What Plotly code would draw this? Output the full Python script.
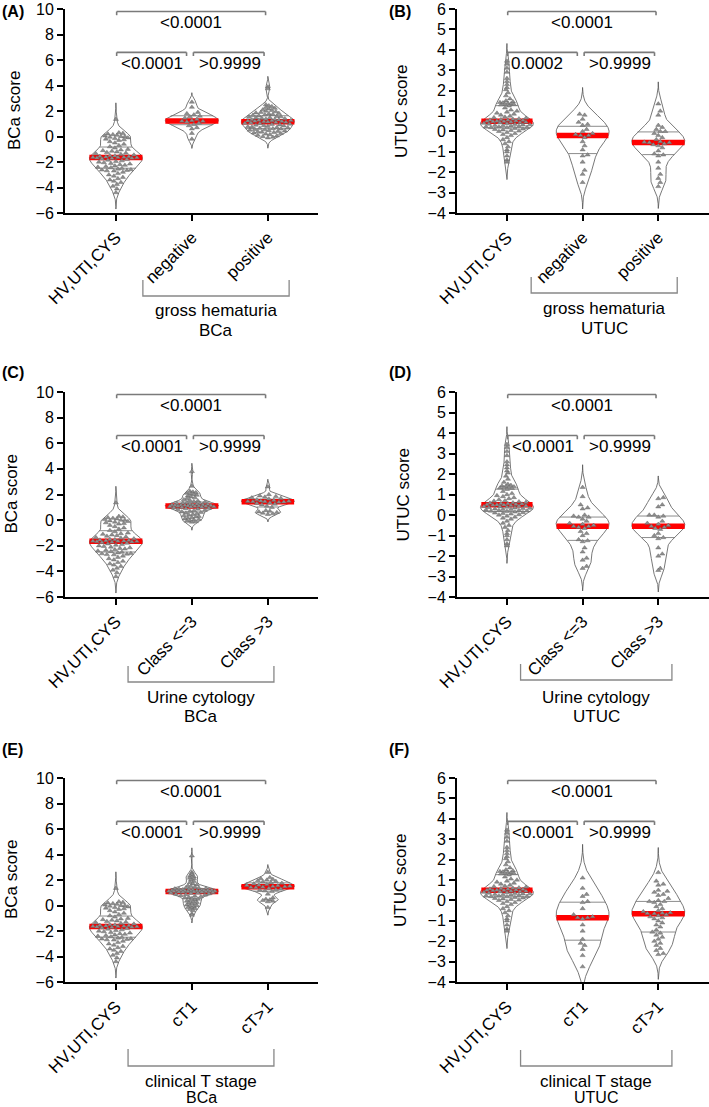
import numpy as np
import plotly.graph_objects as go

W, H = 709, 1107

# ---------------- data ----------------
hv_bca = [1.35,
          0.3, 0.25, 0.2, 0.15, 0.1, 0.05, 0.0, 0.0, -0.05, -0.1, -0.15, -0.2, -0.25, -0.3, -0.4,
          -0.5,
          -0.6, -0.7, -0.8, -0.9, -1.0,
          -1.05, -1.1, -1.15, -1.2, -1.25, -1.3, -1.35, -1.4, -1.45, -1.5, -1.52, -1.55, -1.58,
          -1.6, -1.62, -1.63, -1.64,
          -1.66, -1.68, -1.7, -1.72, -1.75, -1.8, -1.85, -1.9, -1.95, -2.0, -2.05, -2.1, -2.15,
          -2.2, -2.25, -2.3, -2.35, -2.4, -2.45, -2.5, -2.55, -2.6, -2.62, -2.65, -2.68, -2.7,
          -2.8, -2.9, -3.0, -3.1, -3.2, -3.3, -3.4, -3.5, -3.6, -3.75, -3.9, -4.1, -4.4]
hv_utuc = [3.45, 3.3, 3.1, 2.9, 2.6, 2.45, 2.3, 2.15, 2.05, 1.9,
           1.75, 1.6, 1.5, 1.45, 1.42, 1.4, 1.38, 1.35, 1.33, 1.32, 1.3,
           1.25, 1.15, 1.05, 1.0, 0.95, 0.9, 0.85, 0.8, 0.75, 0.7, 0.68, 0.65, 0.62, 0.6, 0.58,
           0.56, 0.55, 0.54, 0.52, 0.51, 0.5,
           0.49, 0.48, 0.46, 0.45, 0.43, 0.42, 0.4, 0.38, 0.36, 0.35, 0.33, 0.32, 0.3, 0.28,
           0.27, 0.25, 0.23, 0.22, 0.2, 0.19, 0.18,
           0.15, 0.12, 0.1, 0.08, 0.05, 0.02, 0.0, -0.05, -0.1, -0.15, -0.2, -0.3, -0.4, -0.5,
           -0.6, -0.75, -0.9, -1.0, -1.2, -1.4, -1.5]

bca_gh_neg = [2.7, 2.3, 1.9, 1.8, 1.7, 1.6, 1.55, 1.45, 1.35, 1.25, 1.2, 1.2, 1.15, 1.05,
              0.95, 0.85, 0.7, 0.6, 0.25, -0.2]
bca_gh_pos = [3.9, 3.75, 2.5, 2.42, 2.35, 2.28, 2.22, 2.16, 2.1, 2.05, 2.0, 1.95, 1.9, 1.86,
              1.82, 1.78, 1.74, 1.7, 1.66, 1.62, 1.58, 1.55, 1.52, 1.49, 1.46, 1.43, 1.4, 1.37,
              1.34, 1.32, 1.3, 1.28, 1.26, 1.24, 1.22, 1.2, 1.18, 1.16,
              1.14, 1.12, 1.1, 1.07, 1.04, 1.01, 0.98, 0.95, 0.92, 0.89, 0.86, 0.83, 0.8, 0.77,
              0.74, 0.71, 0.68, 0.65, 0.62, 0.59, 0.56, 0.53, 0.5, 0.47, 0.44, 0.41, 0.38, 0.35,
              0.32, 0.28, 0.24, 0.2, 0.15, 0.1, 0.05, 0.0, -0.05, -0.1]
bca_cyt_le3 = [3.8, 2.65, 2.25, 2.2, 2.15, 2.1, 2.05, 2.0, 1.95, 1.9, 1.82, 1.75, 1.68, 1.6, 1.55,
               1.5, 1.45, 1.4, 1.36, 1.32, 1.3, 1.28, 1.26, 1.24, 1.22, 1.2, 1.19, 1.18, 1.17,
               1.16, 1.15, 1.14, 1.12, 1.11,
               1.09, 1.08, 1.07, 1.06, 1.05, 1.03, 1.01, 0.99, 0.96, 0.93, 0.9, 0.86, 0.82, 0.78,
               0.74, 0.7, 0.65, 0.6, 0.55, 0.5, 0.45, 0.4, 0.35, 0.3, 0.25, 0.2, 0.15, 0.1, 0.05,
               0.0, -0.05, -0.08, -0.12, -0.15]
bca_cyt_gt3 = [2.6, 2.0, 1.9, 1.85, 1.8, 1.75, 1.7, 1.65, 1.6, 1.55, 1.5, 1.48, 1.46, 1.45, 1.44,
               1.42, 1.4, 1.35, 1.3, 1.25, 1.2, 1.1, 1.0, 0.75, 0.7, 0.65, 0.6, 0.55, 0.5, 0.45]
bca_ct1 = [3.9, 2.6, 2.5, 2.4, 2.3, 2.25, 2.2, 2.15, 2.1, 2.0, 1.9, 1.8, 1.7, 1.62, 1.55, 1.5,
           1.45, 1.4, 1.37, 1.34, 1.31, 1.29, 1.27, 1.25, 1.23, 1.21, 1.2, 1.19, 1.18, 1.17, 1.16,
           1.16, 1.15, 1.15, 1.14, 1.14, 1.13, 1.12, 1.11, 1.1,
           1.09, 1.08, 1.07, 1.06, 1.05, 1.04, 1.02, 1.0, 0.98, 0.95, 0.92, 0.89, 0.86, 0.82,
           0.78, 0.74, 0.7, 0.65, 0.6, 0.55, 0.5, 0.45, 0.4, 0.35, 0.3, 0.25, 0.2, 0.15, 0.1,
           0.05, 0.0, -0.05, -0.1, -0.15, -0.2, -0.25, -0.3, -0.4, -0.65, -0.75]
bca_ctgt1 = [2.6, 2.2, 2.1, 2.05, 2.0, 1.95, 1.9, 1.85, 1.8, 1.75, 1.7, 1.65, 1.6, 1.58, 1.55,
             1.52, 1.5, 1.48, 1.45, 1.42, 1.4, 1.35, 1.3, 1.25, 1.2, 1.15, 1.1, 0.9, 0.6, 0.5,
             0.45, 0.4, 0.35, 0.3, -0.15]
utuc_gh_neg = [0.85, 0.8, 0.6, 0.45, 0.35, 0.3, 0.1, 0.0, -0.1, -0.15, -0.2, -0.2, -0.3, -0.5,
               -0.7, -0.9, -1.15, -1.2, -1.5, -1.9, -2.1, -2.5]
utuc_gh_pos = [1.35, 1.0, 0.8, 0.3, 0.2, 0.1, 0.0, 0.0, -0.1, -0.2, -0.3, -0.4, -0.5, -0.52,
               -0.55, -0.55, -0.6, -0.65, -0.7, -0.8, -0.95, -1.1, -1.15, -1.2, -1.5, -1.8, -2.1,
               -2.3, -2.5, -2.7]
utuc_cyt_le3 = [1.35, 0.9, 0.5, 0.35, 0.3, 0.0, -0.05, -0.1, -0.1, -0.2, -0.3, -0.4, -0.45, -0.5,
                -0.55, -0.55, -0.6, -0.65, -0.8, -0.9, -1.0, -1.2, -1.25, -1.3, -1.6, -1.8, -2.1,
                -2.2, -2.5, -2.6]
utuc_cyt_gt3 = [0.85, 0.8, 0.5, 0.4, 0.0, 0.0, -0.05, -0.1, -0.3, -0.4, -0.45, -0.5, -0.55, -0.6,
                -0.65, -0.7, -0.9, -1.0, -1.1, -1.15, -1.6, -1.9, -2.0, -2.6, -2.7]
utuc_ct1 = [1.1, 0.6, 0.3, 0.2, -0.05, -0.1, -0.4, -0.7, -0.8, -0.85, -0.85, -0.9, -1.2, -1.5,
            -1.9, -2.1, -2.2, -2.4, -2.7, -3.25]
utuc_ctgt1 = [1.37, 0.95, 0.8, 0.75, 0.5, 0.45, 0.4, 0.3, 0.25, 0.1, 0.0, -0.05, -0.05, -0.1, -0.2,
              -0.3, -0.4, -0.5, -0.55, -0.6, -0.62, -0.64, -0.65, -0.7, -0.75, -0.8, -0.85, -0.9,
              -1.0, -1.1, -1.2, -1.3, -1.45, -1.55, -1.6, -1.7, -1.8, -1.9, -2.0, -2.1, -2.2,
              -2.35, -2.45, -2.6, -2.65]

cats_gh = ["HV,UTI,CYS", "negative", "positive"]
cats_cyt = ["HV,UTI,CYS", "Class &lt;=3", "Class &gt;3"]
cats_ct = ["HV,UTI,CYS", "cT1", "cT&gt;1"]

ticks_bca = [-6, -4, -2, 0, 2, 4, 6, 8, 10]
ticks_utuc = [-4, -3, -2, -1, 0, 1, 2, 3, 4, 5, 6]

p_top = ["&lt;0.0001"] * 6
p_left = ["&lt;0.0001", "0.0002", "&lt;0.0001", "&lt;0.0001", "&lt;0.0001", "&lt;0.0001"]
p_right = ["&gt;0.9999"] * 6

# ---------------- layout geometry ----------------
FONT = "Liberation Sans, Arial, sans-serif"
col_px = [(65, 318), (457, 709)]
row_px = [(9, 213), (392, 597), (778, 982)]
x_rng = [[-0.67, 2.66], [-0.66, 2.67]]

panels = [
    dict(letter="(A)", r=0, c=0, groups=[hv_bca, bca_gh_neg, bca_gh_pos], cats=cats_gh,
         ylab="BCa score", ticks=ticks_bca, title=["gross hematuria", "BCa"],
         br=(0.355, 2.28), bry=(280, 296), laby=(310, 330), ylx=15),
    dict(letter="(B)", r=0, c=1, groups=[hv_utuc, utuc_gh_neg, utuc_gh_pos], cats=cats_gh,
         ylab="UTUC score", ticks=ticks_utuc, title=["gross hematuria", "UTUC"],
         br=(0.32, 2.25), bry=(277, 293), laby=(308, 328), ylx=402),
    dict(letter="(C)", r=1, c=0, groups=[hv_bca, bca_cyt_le3, bca_cyt_gt3], cats=cats_cyt,
         ylab="BCa score", ticks=ticks_bca, title=["Urine cytology", "BCa"],
         br=(0.16, 2.08), bry=(666, 682), laby=(697, 716), ylx=11),
    dict(letter="(D)", r=1, c=1, groups=[hv_utuc, utuc_cyt_le3, utuc_cyt_gt3], cats=cats_cyt,
         ylab="UTUC score", ticks=ticks_utuc, title=["Urine cytology", "UTUC"],
         br=(0.18, 2.18), bry=(664, 680), laby=(697, 716), ylx=403),
    dict(letter="(E)", r=2, c=0, groups=[hv_bca, bca_ct1, bca_ctgt1], cats=cats_ct,
         ylab="BCa score", ticks=ticks_bca, title=["clinical T stage", "BCa"],
         br=(0.16, 2.08), bry=(1049, 1066), laby=(1081, 1097), ylx=11),
    dict(letter="(F)", r=2, c=1, groups=[hv_utuc, utuc_ct1, utuc_ctgt1], cats=cats_ct,
         ylab="UTUC score", ticks=ticks_utuc, title=["clinical T stage", "UTUC"],
         br=(0.18, 2.18), bry=(1050, 1066), laby=(1081, 1097), ylx=400),
]

HALF = 0.35


def px_x(p):
    return p / W


def px_y(p):
    return 1 - p / H


def violin_shape(vals):
    v = np.asarray(vals, float)
    n = len(v)
    sd = v.std(ddof=1)
    iqr = np.subtract(*np.percentile(v, [75, 25]))
    s = min(sd, iqr / 1.34) if iqr > 0 else sd
    h = 0.95 * 0.9 * s * n ** (-0.2)
    g = np.linspace(v.min() - 3 * h, v.max() + 3 * h, 400)
    d = np.exp(-0.5 * ((g[:, None] - v[None, :]) / h) ** 2).sum(axis=1)
    d = d / d.max() * HALF
    return g, d


def swarm(vals, g, d, xs, ys, dist=4.3):
    v = np.asarray(vals, float)
    order = np.argsort(v)
    placed = []
    offs = np.zeros(len(v))
    for idx in order:
        yp = v[idx] * ys
        maxw = max(np.interp(v[idx], g, d) * xs - 3.0, 0.0)
        cands = [0.0]
        k = 1
        while k <= maxw:
            cands += [k, -k]
            k += 1
        best, bestd = 0.0, -1.0
        near = [(px, py) for px, py in placed if abs(yp - py) < dist]
        for cnd in cands:
            md = min((np.hypot(cnd - px, yp - py) for px, py in near), default=1e9)
            if md >= dist:
                best = cnd
                break
            if md > bestd:
                bestd, best = md, cnd
        placed.append((best, yp))
        offs[idx] = best / xs
    return offs


fig = go.Figure()
annotations = []
shapes = []

for i, P in enumerate(panels):
    sfx = "" if i == 0 else str(i + 1)
    xa, ya = "x" + sfx, "y" + sfx
    x0p, x1p = col_px[P["c"]]
    y0p, y1p = row_px[P["r"]]
    xr = x_rng[P["c"]]
    yr = [P["ticks"][0], P["ticks"][-1]]
    xs = (x1p - x0p) / (xr[1] - xr[0])
    ys = (y1p - y0p) / (yr[1] - yr[0])

    for pos, vals in enumerate(P["groups"]):
        g, d = violin_shape(vals)
        fig.add_trace(go.Scatter(
            x=np.concatenate([pos + d, (pos - d)[::-1]]),
            y=np.concatenate([g, g[::-1]]),
            mode="lines", fill="toself", fillcolor="white",
            line=dict(color="#555555", width=0.8), xaxis=xa, yaxis=ya, hoverinfo="skip"))
        q1, med, q3 = np.percentile(vals, [25, 50, 75])
        for q in (q1, q3):
            w = np.interp(q, g, d)
            fig.add_trace(go.Scatter(x=[pos - w, pos + w], y=[q, q], mode="lines",
                                     line=dict(color="#6e6e6e", width=0.8),
                                     xaxis=xa, yaxis=ya, hoverinfo="skip"))
        w = np.interp(med, g, d)
        fig.add_trace(go.Scatter(x=[pos - w, pos + w], y=[med, med], mode="lines",
                                 line=dict(color="#ff0000", width=5.5),
                                 xaxis=xa, yaxis=ya, hoverinfo="skip"))
        offs = swarm(vals, g, d, xs, ys)
        fig.add_trace(go.Scatter(
            x=pos + offs, y=vals, mode="markers",
            marker=dict(symbol="triangle-up", size=4.5, color="#8e8e8e",
                        line=dict(color="#5a5a5a", width=0.4)),
            xaxis=xa, yaxis=ya, hoverinfo="skip"))

    ax = dict(domain=[px_x(x0p), px_x(x1p)], range=xr, anchor=ya,
              tickvals=[0, 1, 2], ticktext=P["cats"], tickangle=-45,
              ticks="outside", ticklen=6, tickwidth=2, tickcolor="black",
              showline=True, linewidth=2, linecolor="black", showgrid=False,
              zeroline=False, tickfont=dict(family=FONT, size=17, color="black"),
              automargin=False, fixedrange=True, ticklabeloverflow="allow")
    ay = dict(domain=[px_y(y1p), px_y(y0p)], range=yr, anchor=xa,
              tickvals=P["ticks"], ticks="outside", ticklen=6, tickwidth=2, tickcolor="black",
              showline=True, linewidth=2, linecolor="black", showgrid=False,
              zeroline=False, tickfont=dict(family=FONT, size=16, color="black"),
              automargin=False, fixedrange=True, ticklabeloverflow="allow")
    fig.layout["xaxis" + sfx] = ax
    fig.layout["yaxis" + sfx] = ay

    # significance brackets
    span = yr[1] - yr[0]
    top_y = yr[1] - 0.0125 * span
    low_y = yr[0] + 0.7875 * span
    tk = 0.018 * span
    gray = "#7a7a7a"
    for (xa0, xa1, yy) in [(0.01, 1.97, top_y), (0.01, 0.93, low_y), (1.02, 1.95, low_y)]:
        shapes.append(dict(type="line", xref=xa, yref=ya, x0=xa0, x1=xa1, y0=yy, y1=yy,
                           line=dict(color=gray, width=1.6)))
        for xe in (xa0, xa1):
            shapes.append(dict(type="line", xref=xa, yref=ya, x0=xe, x1=xe, y0=yy, y1=yy - tk,
                               line=dict(color=gray, width=1.6)))
    lx = 0.4 if P["letter"] == "(B)" else 0.47
    for txt, xx, yy in [(p_top[i], 0.99, yr[1] - 0.067 * span),
                        (p_left[i], lx, yr[0] + 0.733 * span),
                        (p_right[i], 1.5, yr[0] + 0.733 * span)]:
        annotations.append(dict(text=txt, x=xx, y=yy, xref=xa, yref=ya, showarrow=False,
                                xanchor="center", yanchor="middle",
                                font=dict(family=FONT, size=17, color="black")))

    # group bracket below axis
    b0, b1 = P["br"]
    by0, by1 = P["bry"]
    shapes.append(dict(type="path", xref=xa, yref="paper",
                       path=f"M {b0},{px_y(by0)} L {b0},{px_y(by1)} L {b1},{px_y(by1)} L {b1},{px_y(by0)}",
                       line=dict(color="#888888", width=1.3)))
    for line_txt, ly in zip(P["title"], P["laby"]):
        annotations.append(dict(text=line_txt, x=(b0 + b1) / 2, y=px_y(ly), xref=xa,
                                yref="paper", showarrow=False, xanchor="center",
                                yanchor="middle",
                                font=dict(family=FONT, size=17 if ly < 1090 else 16,
                                          color="black")))
    # axis title
    annotations.append(dict(text=P["ylab"], x=px_x(P["ylx"]), y=px_y((y0p + y1p) / 2),
                            xref="paper", yref="paper", showarrow=False, textangle=-90,
                            xanchor="center", yanchor="middle",
                            font=dict(family=FONT, size=17, color="black")))
    # panel letter
    lxp = 0 if P["c"] == 0 else 387
    lyp = [12, 372, 749][P["r"]]
    annotations.append(dict(text="<b>" + P["letter"] + "</b>", x=px_x(lxp), y=px_y(lyp),
                            xref="paper", yref="paper", showarrow=False, xanchor="left",
                            yanchor="middle", font=dict(family=FONT, size=16, color="black")))

fig.update_layout(width=W, height=H, margin=dict(l=0, r=0, t=0, b=0),
                  paper_bgcolor="white", plot_bgcolor="white", showlegend=False,
                  annotations=annotations, shapes=shapes)
fig.write_html("out.html", config={"displayModeBar": False, "staticPlot": True},
               post_script="document.body.style.margin='0';document.body.style.padding='0';"
                           "document.documentElement.style.margin='0';")
